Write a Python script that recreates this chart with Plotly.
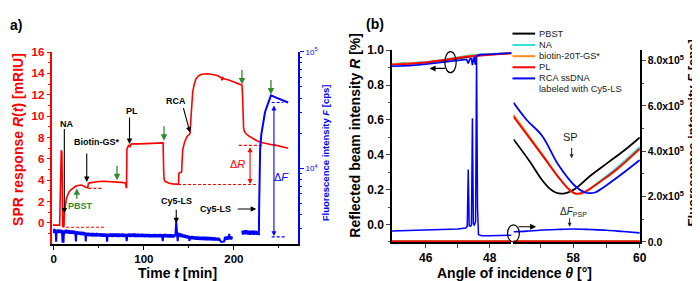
import plotly.graph_objects as go

W, H = 700, 281
def px(x): return x / W
def py(y): return 1 - y / H

FONT = "Liberation Sans, Arial, sans-serif"
RED = "#ff0000"; BLUE = "#0000ff"; GREEN = "#2e8b30"
CYAN = "#2fe0e0"; ORANGE = "#ff8c1a"; BLACK = "#000000"

# ---------------- Panel a data ----------------
red_t = [-1.0, 6.5, 7.3, 7.8, 8.3, 9.0, 9.6, 10.0, 10.8, 11.3, 11.8, 12.8, 14, 15.4, 17, 19, 21.5, 24.5, 27, 30, 32,
         33.7, 35.5, 37.8, 38.4, 40, 44.6, 50, 55, 62, 68.4, 75, 79.4, 80.0, 80.8, 81.2, 82, 83, 84, 84.8, 85.5, 87,
         95, 105, 115, 121.4, 122, 122.5, 123.5, 125, 128, 132, 138, 138.6, 138.8, 139.5, 141.5, 142, 142.5, 143.3,
         145.2, 148, 150.6, 151.3, 152.4, 153.3, 154.3, 156, 158, 160.5, 163.4, 167, 170.7, 176, 181.7, 186, 187,
         187.8, 189, 195, 200, 205, 209, 209.6, 210, 210.8, 211.6, 213.5, 216.4, 220, 225.5, 231, 236.5, 242, 247.5,
         254, 260.3]
red_R = [-0.2, -0.2, 3.0, 6.5, 6.8, 6.6, 2.0, -0.3, -0.4, -0.3, 1.0, 1.8, 2.3, 2.6, 2.9, 3.1, 3.3, 3.45, 3.5, 3.55,
         3.5, 3.4, 3.35, 3.3, 3.7, 3.75, 3.84, 3.88, 3.9, 3.88, 3.84, 3.8, 3.75, 3.3, 3.24, 6.9, 7.1, 7.25, 7.2, 7.1,
         7.35, 7.4, 7.4, 7.43, 7.45, 7.5, 5.0, 4.1, 3.9, 3.84, 3.72, 3.66, 3.62, 3.62, 4.6, 4.72, 4.72, 4.8, 5.8, 6.9,
         7.55, 8.1, 8.3, 8.4, 9.9, 11.3, 12.3, 13.0, 13.5, 13.75, 13.9, 13.95, 13.96, 13.9, 13.8, 13.6, 13.35, 13.6,
         13.5, 13.35, 13.2, 13.05, 12.9, 12.0, 9.5, 8.9, 8.6, 8.35, 8.15, 7.95, 7.7, 7.53, 7.4, 7.33, 7.26, 7.13, 7.0]

blue_t = [0.0, 0.5, 1.3, 2.0, 2.6, 3.1, 4.0, 5.0, 6.0, 7.0, 8.0, 9.0, 9.7, 10.8, 11.4, 12.3, 13.2, 14.1, 15.0, 16.0,
          17.0, 18.0, 19.0, 20.0, 21.0, 22.0, 23.0, 24.0, 24.6, 25.2, 26.2, 27.2, 28.2, 29.2, 30.2, 31.2, 32.2, 33.2,
          34.2, 35.0, 35.5, 36.1, 37.0, 38.0, 39.0, 40.0, 41.0, 42.0, 43.0, 44.0, 45.0, 46.0, 47.0, 48.0, 49.0, 50.0,
          51.0, 52.0, 53.0, 54.0, 55.0, 56.0, 57.0, 58.5, 59.2, 59.9, 61.0, 62.0, 63.0, 64.0, 65.0, 66.0, 67.0, 68.0,
          69.0, 70.0, 71.0, 72.0, 73.0, 74.0, 75.0, 76.0, 77.0, 78.0, 79.0, 80.0, 81.0, 81.8, 83.0, 84.0, 85.0, 86.0,
          87.0, 88.0, 89.0, 90.0, 91.0, 92.0, 93.0, 94.0, 95.0, 96.0, 97.0, 98.0, 99.0, 100.0, 101.0, 102.0, 103.0,
          104.0, 105.0, 106.0, 107.0, 108.0, 109.0, 110.0, 111.0, 112.0, 113.0, 114.0, 115.0, 116.0, 117.0, 118.0,
          119.0, 120.0, 121.0, 121.8, 123.0, 124.0, 125.0, 126.0, 127.0, 128.0, 129.0, 130.0, 131.0, 132.0, 133.0,
          134.0, 135.0, 135.6, 136.0, 136.5, 137.0, 137.6, 138.3, 139.2, 140.0, 141.0, 142.0, 143.0, 144.0, 145.0,
          146.0, 147.0, 148.0, 149.0, 150.0, 150.6, 151.3, 152.3, 153.3, 154.3, 155.3, 156.3, 157.3, 158.3, 159.3,
          160.3, 161.3, 162.3, 163.3, 164.3, 165.3, 166.3, 167.3, 168.3, 169.3, 170.3, 171.3, 172.3, 173.3, 174.3,
          175.3, 176.3, 177.3, 178.3, 179.3, 180.3, 181.3, 182.3, 183.3, 184.3, 185.3, 186.5, 188.0, 189.3, 190.0,
          190.8, 191.6, 192.4, 193.2, 194.0, 194.8, 195.5, 196.3, 197.2, 198.0, 198.5,
          209.2, 210.0, 211.0, 212.0, 213.0, 214.0, 215.0, 216.0, 217.0, 218.0, 219.0, 220.0, 221.0, 222.0, 223.0,
          224.0, 225.0, 226.0, 227.0, 227.8, 228.1, 228.5, 229.2, 230.5, 232.9, 234.5, 236.5, 238.5, 240.1, 241.2,
          245.0, 251.1, 255.5, 260.3]
blue_F = [2750, 3000, 2800, 2980, 2330, 2920, 2760, 2960, 2770, 2950, 2760, 2940, 2330, 2330, 2920, 2740, 2950, 2750,
          2930, 2740, 2920, 2730, 2910, 2720, 2900, 2710, 2890, 2700, 2340, 2860, 2680, 2850, 2670, 2840, 2660, 2830,
          2650, 2820, 2640, 2800, 2340, 2780, 2610, 2780, 2600, 2770, 2590, 2760, 2580, 2760, 2590, 2750, 2580, 2760,
          2590, 2740, 2580, 2750, 2580, 2740, 2570, 2740, 2580, 2730, 2330, 2720, 2570, 2740, 2570, 2730, 2560, 2730,
          2570, 2740, 2570, 2730, 2560, 2730, 2560, 2720, 2570, 2730, 2560, 2720, 2570, 2720, 2350, 2720, 2570, 2730,
          2560, 2720, 2570, 2730, 2560, 2730, 2560, 2720, 2550, 2720, 2550, 2710, 2550, 2720, 2550, 2710, 2540, 2710,
          2550, 2710, 2540, 2710, 2540, 2700, 2550, 2700, 2540, 2710, 2540, 2700, 2540, 2700, 2550, 2710, 2540, 2700,
          2350, 2700, 2540, 2710, 2540, 2700, 2530, 2690, 2530, 2690, 2530, 2680, 2530, 2680, 2600, 3100, 3460, 3000,
          2700, 2350, 2780, 2580, 2750, 2560, 2720, 2540, 2690, 2520, 2670, 2500, 2640, 2480, 2620, 2360, 2600, 2450,
          2600, 2440, 2590, 2430, 2580, 2420, 2580, 2420, 2570, 2410, 2570, 2410, 2560, 2410, 2560, 2400, 2560, 2400,
          2550, 2400, 2550, 2400, 2540, 2390, 2540, 2390, 2530, 2380, 2520, 2380, 2500, 2370, 2340, 2320, 2330, 2340,
          2560, 2410, 2580, 2420, 2600, 2430, 2720, 2440, 2600, 2430, 2580, None,
          2900, 2680, 2910, 2700, 2920, 2690, 2910, 2680, 2900, 2670, 2890, 2680, 2900, 2670, 2890, 2680, 2880, 2670,
          2850, 2650, 4800, 9000, 14700, 19500, 25900, 30000, 33400, 37200, 40300, 42200, 40900, 39100, 37800, 36600]

# dashed guide levels (panel a)
dashR1_t = [13.6, 57.5];   dashR1 = [-0.4, -0.4]
dashR2_t = [38.4, 53.7];   dashR2 = [3.24, 3.24]
dashR3_t = [138.0, 227.0]; dashR3 = [3.6, 3.6]
dashR4_t = [205.5, 231.0]; dashR4 = [7.26, 7.26]
dashF1_t = [242.0, 255.0]; dashF1 = [36600, 36600]
dashF2_t = [242.0, 257.0]; dashF2 = [2560, 2560]

# ---------------- Panel b data ----------------
names_b = ["PBST", "NA", "biotin-20T-GS*", "PL", "RCA ssDNA"]
colors_b = [BLACK, CYAN, ORANGE, RED, BLUE]

thL = [44.95, 45.5, 46.0, 46.5, 47.0, 47.3, 47.6, 48.0, 48.68]
R_black_L = [0.920, 0.924, 0.930, 0.940, 0.955, 0.963, 0.970, 0.976, 0.984]
R_cyan_L = [0.922, 0.926, 0.932, 0.944, 0.962, 0.970, 0.975, 0.978, 0.985]
R_orange_L = [0.921, 0.925, 0.931, 0.942, 0.958, 0.966, 0.972, 0.977, 0.984]
R_red_L = [0.918, 0.922, 0.930, 0.942, 0.958, 0.964, 0.968, 0.975, 0.983]
thBL = [44.95, 45.5, 46.0, 46.5, 47.0, 47.28, 47.33, 47.38, 47.43, 47.46, 47.50, 47.52, 47.55, 47.58, 47.62, 47.7,
        48.0, 48.68]
R_blue_L = [0.908, 0.912, 0.920, 0.930, 0.942, 0.948, 0.925, 0.950, 0.952, 0.915, 0.955, 0.957, 0.918, 0.965, 0.972,
            0.975, 0.977, 0.984]

thFL = [44.95, 45.5, 46.0, 46.5, 47.0, 47.25, 47.30, 47.33, 47.36, 47.40, 47.43, 47.46, 47.49, 47.52, 47.56, 47.59,
        47.62, 47.65, 47.75, 48.0, 48.68]
F_blue_L = [0.48e5, 0.50e5, 0.52e5, 0.54e5, 0.57e5, 0.62e5, 0.7e5, 3.2e5, 0.72e5, 0.7e5, 0.75e5, 5.45e5, 0.8e5,
            0.75e5, 0.9e5, 8.2e5, 1.5e5, 0.32e5, 0.28e5, 0.28e5, 0.30e5]
F_other_L = [0.02e5] * 2
thFL_other = [44.95, 48.68]

thFR = [56.2, 56.6, 57.0, 57.5, 58.0, 58.5, 59.0, 59.5, 60.0]
F_blue_R = [0.45e5, 0.48e5, 0.52e5, 0.55e5, 0.57e5, 0.55e5, 0.52e5, 0.46e5, 0.40e5]
thFR_other = [56.2, 60.0]
F_other_R = [0.02e5] * 2

th_black_R = [56.2, 56.68, 57.06, 57.3, 57.47, 57.7, 58.06, 58.53, 59.03, 59.53, 60.0]
R_black_R = [0.49, 0.365, 0.256, 0.205, 0.184, 0.178, 0.206, 0.283, 0.354, 0.425, 0.50]
th_mid_R = [56.2, 57.06, 57.56, 57.85, 58.05, 58.3, 58.8, 59.3, 60.0]
R_cyan_R = [0.625, 0.40, 0.27, 0.205, 0.178, 0.182, 0.25, 0.325, 0.445]
R_orange_R = [0.63, 0.405, 0.272, 0.205, 0.178, 0.182, 0.244, 0.314, 0.433]
R_red_R = [0.62, 0.40, 0.27, 0.206, 0.179, 0.184, 0.245, 0.316, 0.436]
th_blue_R = [56.2, 56.6, 57.06, 57.56, 58.06, 58.35, 58.5, 58.65, 59.03, 59.53, 60.0]
R_blue_R = [0.70, 0.60, 0.51, 0.34, 0.22, 0.184, 0.180, 0.184, 0.23, 0.30, 0.37]

fig = go.Figure()

def line(x, y, color, width=1.6, xa="x", ya="y", dash=None, shape="linear"):
    fig.add_trace(go.Scatter(x=x, y=y, mode="lines", xaxis=xa, yaxis=ya, showlegend=False,
                             line=dict(color=color, width=width, dash=dash, shape=shape), hoverinfo="skip"))

# panel a
line(blue_t, blue_F, BLUE, 2.0, ya="y2")
line(red_t, red_R, RED, 1.6)
for tt, vv in [(dashR1_t, dashR1), (dashR2_t, dashR2), (dashR3_t, dashR3), (dashR4_t, dashR4)]:
    line(tt, vv, RED, 1.2, dash="3px,2px")
for tt, vv in [(dashF1_t, dashF1), (dashF2_t, dashF2)]:
    line(tt, vv, BLUE, 1.2, ya="y2", dash="3px,2px")

# panel b: fluorescence near zero
for c in [BLACK, CYAN, ORANGE, RED]:
    line(thFL_other, F_other_L, c, 2, xa="x2", ya="y4")
    line(thFR_other, F_other_R, c, 2, xa="x3", ya="y4")
line(thFL, F_blue_L, BLUE, 1.5, xa="x2", ya="y4")
line(thFR, F_blue_R, BLUE, 1.6, xa="x3", ya="y4", shape="spline")
# panel b: reflectivity
line(thL, R_black_L, BLACK, 1.8, xa="x2", ya="y3")
line(thL, R_cyan_L, CYAN, 1.8, xa="x2", ya="y3")
line(thL, R_orange_L, ORANGE, 1.8, xa="x2", ya="y3")
line(thL, R_red_L, RED, 1.8, xa="x2", ya="y3")
line(thBL, R_blue_L, BLUE, 1.6, xa="x2", ya="y3")
line(th_black_R, R_black_R, BLACK, 1.8, xa="x3", ya="y3", shape="spline")
line(th_mid_R, R_cyan_R, CYAN, 1.8, xa="x3", ya="y3", shape="spline")
line(th_mid_R, R_orange_R, ORANGE, 1.8, xa="x3", ya="y3", shape="spline")
line(th_mid_R, R_red_R, RED, 1.8, xa="x3", ya="y3", shape="spline")
line(th_blue_R, R_blue_R, BLUE, 1.8, xa="x3", ya="y3", shape="spline")

tickf = dict(family=FONT, size=11.5, color=BLACK, weight="bold")
tickb = dict(family=FONT, size=12, color=BLACK, weight="bold")
tickr = dict(family=FONT, size=10.5, color=BLACK, weight="bold")

minor_log = [3000, 4000, 5000, 6000, 7000, 8000, 9000, 20000, 30000, 40000, 50000, 60000, 70000, 80000, 90000]

fig.update_layout(
    width=W, height=H, margin=dict(l=0, r=0, t=0, b=0),
    paper_bgcolor="white", plot_bgcolor="white", showlegend=False,
    font=dict(family=FONT),
    xaxis=dict(domain=[px(43), px(292)], range=[-1.5, 271.5], anchor="y", showgrid=False, zeroline=False,
               showline=True, linecolor=BLACK, linewidth=1.5, ticks="outside", ticklen=4, tickwidth=1.2,
               tickcolor=BLACK, tickvals=[0, 100, 200], tickfont=tickf,
               minor=dict(tickvals=[50, 150, 250], ticks="outside", ticklen=2.5, tickcolor=BLACK)),
    yaxis=dict(domain=[py(240), py(38.5)], range=[-1.96, 16.03], anchor="x", showgrid=False, zeroline=False,
               showline=True, linecolor=RED, linewidth=1.5, ticks="outside", ticklen=4, tickwidth=1.2,
               tickcolor=RED, tickvals=list(range(0, 17, 2)), tickfont=dict(tickf, color=RED),
               minor=dict(tickvals=list(range(-1, 17, 2)), ticks="outside", ticklen=2.5, tickcolor=RED)),
    yaxis2=dict(type="log", overlaying="y", side="right", anchor="x", range=[3.348, 5.0], showgrid=False,
                zeroline=False, showline=True, linecolor=BLUE, linewidth=1.5, ticks="outside", ticklen=4,
                tickcolor=BLUE, tickvals=[1e4, 1e5], ticktext=["10<sup>4</sup>", "10<sup>5</sup>"],
                tickfont=dict(family=FONT, size=8, color=BLUE),
                minor=dict(tickvals=minor_log, ticks="outside", ticklen=2.5, tickcolor=BLUE)),
    xaxis2=dict(domain=[px(387), px(508)], range=[44.95, 48.68], anchor="y3", showgrid=False, zeroline=False,
                showline=True, linecolor=BLACK, linewidth=1.5, ticks="outside", ticklen=4, tickwidth=1.2,
                tickvals=[46, 47, 48], ticktext=["46", "", "48"], tickfont=tickb),
    xaxis3=dict(domain=[px(510), px(638)], range=[56.2, 60.0], anchor="y3", showgrid=False, zeroline=False,
                showline=True, linecolor=BLACK, linewidth=1.5, ticks="outside", ticklen=4, tickwidth=1.2,
                tickvals=[57, 58, 59, 60], ticktext=["", "58", "", "60"], tickfont=tickb),
    yaxis3=dict(domain=[py(238), py(37)], range=[-0.1, 1.0], anchor="x2", showgrid=False, zeroline=False,
                showline=True, linecolor=BLACK, linewidth=1.5, ticks="outside", ticklen=4, tickwidth=1.2,
                tickvals=[0, 0.2, 0.4, 0.6, 0.8, 1.0], ticktext=["0.0", "0.2", "0.4", "0.6", "0.8", "1.0"],
                tickfont=tickb,
                minor=dict(tickvals=[-0.1, 0.1, 0.3, 0.5, 0.7, 0.9], ticks="outside", ticklen=2.5)),
    yaxis4=dict(overlaying="y3", side="right", anchor="x3", range=[0, 8.45e5], showgrid=False, zeroline=False,
                showline=True, linecolor=BLACK, linewidth=1.5, ticks="outside", ticklen=4, tickwidth=1.2,
                tickvals=[0, 2e5, 4e5, 6e5, 8e5],
                ticktext=["0.0", "2.0x10<sup>5</sup>", "4.0x10<sup>5</sup>", "6.0x10<sup>5</sup>", "8.0x10<sup>5</sup>"],
                tickfont=tickr, ticklabelstandoff=0,
                minor=dict(tickvals=[1e5, 3e5, 5e5, 7e5], ticks="outside", ticklen=2.5)),
)

ann = []
def text(x, y, s, size=9, color=BLACK, xref="x", yref="y", angle=0, xanchor="center", yanchor="middle"):
    ann.append(dict(x=x, y=y, xref=xref, yref=yref, text=s, showarrow=False, textangle=angle,
                    xanchor=xanchor, yanchor=yanchor, font=dict(family=FONT, size=size, color=color)))

def arrow(x, y, ax, ay, color=BLACK, xref="x", yref="y", width=1.1, head=2, size=1.0, side="end",
          axref="pixel", ayref="pixel"):
    ann.append(dict(x=x, y=y, ax=ax, ay=ay, xref=xref, yref=yref, axref=axref, ayref=ayref, text="",
                    showarrow=True, arrowcolor=color, arrowwidth=width, arrowhead=head, arrowsize=size,
                    arrowside=side, startarrowhead=head, startarrowsize=size))

# panel a labels
text(px(6), py(10.5), "<b>a)</b>", 14, xref="paper", yref="paper")
text(15.0, 9.27, "<b>NA</b>")
arrow(11.7, 0.89, 0, -86)
text(47.4, 7.56, "<b>Biotin-GS*</b>")
arrow(36.6, 3.84, 0, -30)
text(86.6, 10.45, "<b>PL</b>")
arrow(84.1, 7.4, 0, -28)
text(136.0, 11.43, "<b>RCA</b>")
arrow(151.3, 8.46, -7, -26)
text(136.0, 2.05, "<b>Cy5-LS</b>")
arrow(136.0, -0.02, 0, -15)
text(179.8, 1.31, "<b>Cy5-LS</b>")
arrow(224.8, 1.31, -20, 0)
text(30.0, 1.6, "<b>PBST</b>", 9, GREEN)
arrow(25.6, 3.24, 0, 12, GREEN, width=1.3)
for (gt, gr) in [(70.2, 4.0), (122.4, 7.7), (209.0, 12.97), (241.2, 12.02)]:
    arrow(gt, gr, 0, -16, GREEN, width=1.3)
text(203.6, 5.48, "Δ<i>R</i>", 11, RED)
arrow(218.0, 3.65, 218.0, 7.23, RED, side="end+start", axref="x", ayref="y", size=0.9)
text(253.0, 4.28, "Δ<i>F</i>", 11, BLUE)
arrow(244.5, 3.415, 244.5, 4.551, BLUE, yref="y2", side="end+start", axref="x", ayref="y2", size=0.9)

# axis titles
text(px(170), py(271), "<b>Time <i>t</i> [min]</b>", 14, xref="paper", yref="paper")
text(px(8), py(130), "<b>SPR response <i>R</i>(<i>t</i>) [mRIU]</b>", 14, RED, "paper", "paper", -90)
text(px(319), py(144), "<b>Fluorescence intensity <i>F</i> [cps]</b>", 9.5, BLUE, "paper", "paper", -90)

# panel b labels
text(px(370), py(9), "<b>(b)</b>", 14, xref="paper", yref="paper")
text(px(511), py(271), "<b>Angle of incidence <i>θ</i> [°]</b>", 14, xref="paper", yref="paper")
text(px(350), py(126), "<b>Reflected beam intensity <i>R</i> [%]</b>", 14, xref="paper", yref="paper", angle=-90)
text(px(691), py(124), "<b>Fluorescence intensity <i>F</i> [cps]</b>", 13, xref="paper", yref="paper", angle=-90)

text(57.92, 0.502, "SP", 11, "#222", xref="x3", yref="y3")
arrow(57.95, 0.38, 0, -12, "#222", xref="x3", yref="y3", width=1.0, size=0.8)
text(58.0, 0.07, "Δ<i>F</i><sub>PSP</sub>", 10, "#222", xref="x3", yref="y3")
arrow(57.89, -0.012, 0, -10, "#222", xref="x3", yref="y3", width=1.0, size=0.8)

# ellipse pointer arrows
arrow(px(425), py(56), 17, 0, BLACK, xref="paper", yref="paper", width=1.2)
arrow(px(533), py(222), -19, 0, BLACK, xref="paper", yref="paper", width=1.2)

# legend (drawn manually)
leg_y = [19.5, 31.5, 43.2, 54.8, 66.5]
shapes = []
for nm, c, yy in zip(names_b, colors_b, leg_y):
    shapes.append(dict(type="line", xref="paper", yref="paper", x0=px(509), x1=px(532), y0=py(yy), y1=py(yy),
                       line=dict(color=c, width=2)))
    text(px(534), py(yy), nm, 9.3, "#222", "paper", "paper", xanchor="left")
text(px(534), py(77.8), "labeled with Cy5-LS", 9.3, "#222", "paper", "paper", xanchor="left")

shapes.append(dict(type="circle", xref="paper", yref="paper", x0=px(440.5), x1=px(452), y0=py(60.5), y1=py(38.5),
                   line=dict(color=BLACK, width=1.2)))
shapes.append(dict(type="circle", xref="paper", yref="paper", x0=px(504), x1=px(516), y0=py(238), y1=py(220),
                   line=dict(color=BLACK, width=1.2)))

fig.update_layout(annotations=ann, shapes=shapes)
fig.write_html("out.html")
